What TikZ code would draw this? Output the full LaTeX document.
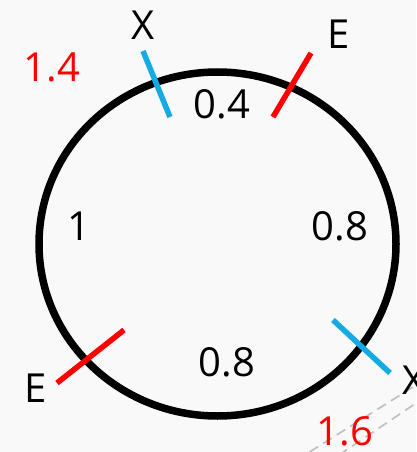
\documentclass[tikz,border=0pt]{standalone}
\usepackage{fontspec}
\setmainfont{Open Sans}
\definecolor{bgc}{RGB}{249,249,249}
\definecolor{cutblue}{RGB}{20,170,228}
\definecolor{cutred}{RGB}{255,0,0}
\definecolor{dashgray}{RGB}{192,192,192}
\begin{document}
\begin{tikzpicture}[x=1pt,y=-1pt,
  lbl/.style={font=\fontsize{40}{46}\selectfont, inner sep=0pt, anchor=center, text=black},
  redlbl/.style={lbl, text=cutred},
  ring/.style={line width=7.5pt, draw=black},
  bluecut/.style={line width=5.5pt, draw=cutblue},
  redcut/.style={line width=5.5pt, draw=cutred},
  guide/.style={line width=1.7pt, draw=dashgray, dash pattern=on 10pt off 6pt}]
\useasboundingbox (0,0) rectangle (416,452);
\fill[bgc] (0,0) rectangle (416,452);
\begin{scope}
\clip (0,0) rectangle (416,452);
% dashed guides
\coordinate (g1a) at (440,370);
\coordinate (g1b) at (300,458);
\coordinate (g2a) at (440,387);
\coordinate (g2b) at (330,461);
\draw[guide] (g1a) -- (g1b);
\draw[guide] (g2a) -- (g2b);
% ring
\draw[ring] (217.5,244) ellipse [x radius=178.5, y radius=172];
% cuts
\coordinate (bt1) at (143,51);
\coordinate (bt2) at (170,117);
\coordinate (rt1) at (311,53);
\coordinate (rt2) at (273,117);
\coordinate (bb1) at (333,320);
\coordinate (bb2) at (390,373);
\coordinate (rb1) at (57,383);
\coordinate (rb2) at (124,330);
\draw[bluecut] (bt1) -- (bt2);
\draw[redcut] (rt1) -- (rt2);
\draw[bluecut] (bb1) -- (bb2);
\draw[redcut] (rb1) -- (rb2);
% labels
\node[lbl] (xtop) at (143,25) {X};
\node[redlbl] (d14) at (52,67) {1.4};
\node[lbl] (etop) at (339,34) {E};
\node[lbl] (s04) at (222,104) {0.4};
\node[lbl] (s1) at (79,226) {1};
\node[lbl] (s08r) at (340,226) {0.8};
\node[lbl] (s08b) at (227,362) {0.8};
\node[lbl] (ebot) at (36,388) {E};
\node[lbl] (xbot) at (414,380) {X};
\node[redlbl] (d16) at (345,431) {1.6};
\end{scope}
\end{tikzpicture}
\end{document}
